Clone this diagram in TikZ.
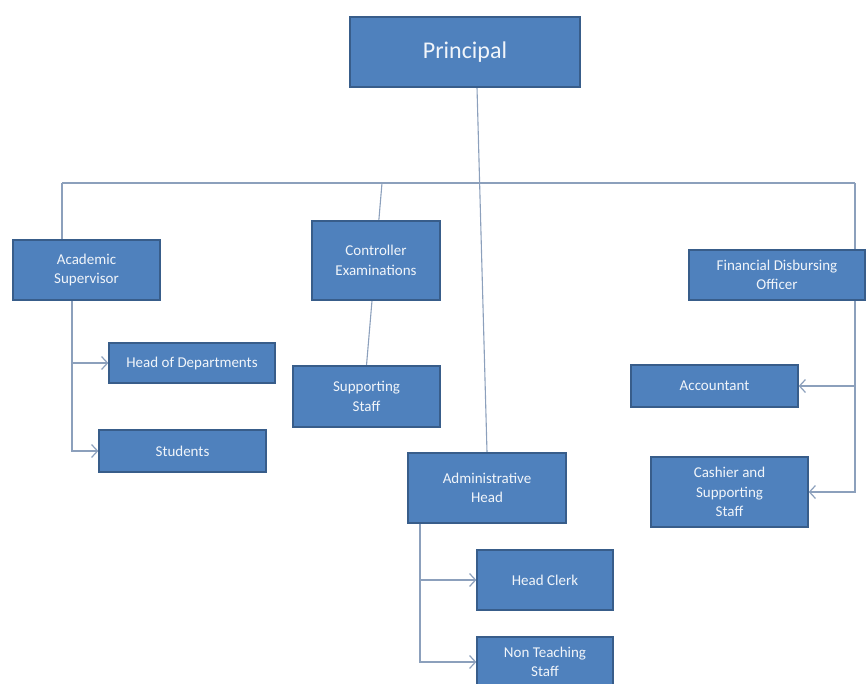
\documentclass[tikz,border=0pt]{standalone}
\usepackage{fontspec}
\setmainfont{Carlito}
\usetikzlibrary{positioning,arrows.meta,calc}
\pgfdeclarelayer{bg}
\pgfsetlayers{bg,main}
\definecolor{boxblue}{RGB}{79,129,189}
\definecolor{boxedge}{RGB}{56,93,138}
\definecolor{wire}{RGB}{140,160,188}

\begin{document}
\begin{tikzpicture}[x=1pt,y=-1pt,
    post/.style={rectangle,fill=boxblue,draw=boxedge,line width=1.3pt,text=white!92!boxblue,align=center,inner sep=2pt,font=\fontsize{15}{19.5}\selectfont},
    link/.style={draw=wire,line width=1.1pt},
    >={Straight Barb[length=6pt,width=13pt,line width=1.2pt]}]
      \useasboundingbox (0,0) rectangle (866,684);

      \node[post,minimum width=230pt,minimum height=70pt,font=\fontsize{24}{28}\selectfont] (prin) at (465,52) {Principal};

      \node[post,minimum width=147pt,minimum height=60pt] (acad) at (86.5,270) {Academic\\Supervisor};
      \node[post,minimum width=128pt,minimum height=79pt] (ctrl) at (376,260.5) {Controller\\Examinations};
      \node[post,minimum width=176pt,minimum height=50pt] (fdo) at (777,275) {Financial Disbursing\\Officer};

      \node[post,minimum width=166pt,minimum height=40pt] (hod) at (192,363) {Head of Departments};
      \node[post,minimum width=167pt,minimum height=42pt] (stud) at (182.5,451) {Students};
      \node[post,minimum width=147pt,minimum height=61pt] (supp) at (366.5,396.5) {Supporting\\Staff};
      \node[post,minimum width=158pt,minimum height=70pt] (admin) at (487,488) {Administrative\\Head};
      \node[post,minimum width=167pt,minimum height=42pt] (acct) at (714.5,386) {Accountant};
      \node[post,minimum width=157pt,minimum height=70pt] (cash) at (729.5,492) {Cashier and\\Supporting\\Staff};
      \node[post,minimum width=136pt,minimum height=60pt] (clerk) at (545,580) {Head Clerk};
      \node[post,minimum width=136pt,minimum height=50pt] (nts) at (545,662) {Non Teaching\\Staff};

      \coordinate (busL) at (62,183);
      \coordinate (busR) at (855,183);
      \coordinate (cbus) at (382,183);

      \begin{pgfonlayer}{bg}
      \draw[link] (busL) -- (busR);
      \draw[link] (busL) -- (busL |- acad.north);
      \draw[link] (prin.south) ++(12,0) -- (admin.north);
      \draw[link] (cbus) -- (supp.north);
      \draw[link,->] (busR) |- (acct.east);
      \draw[link,->] (busR) |- (cash.east);
      \draw[link,->] ([xshift=-14.5pt]acad.south) |- (hod.west);
      \draw[link,->] ([xshift=-14.5pt]acad.south) |- (stud.west);
      \draw[link,->] ([xshift=-67pt]admin.south) |- (clerk.west);
      \draw[link,->] ([xshift=-67pt]admin.south) |- (nts.west);
      \end{pgfonlayer}
    \end{tikzpicture}
\end{document}
